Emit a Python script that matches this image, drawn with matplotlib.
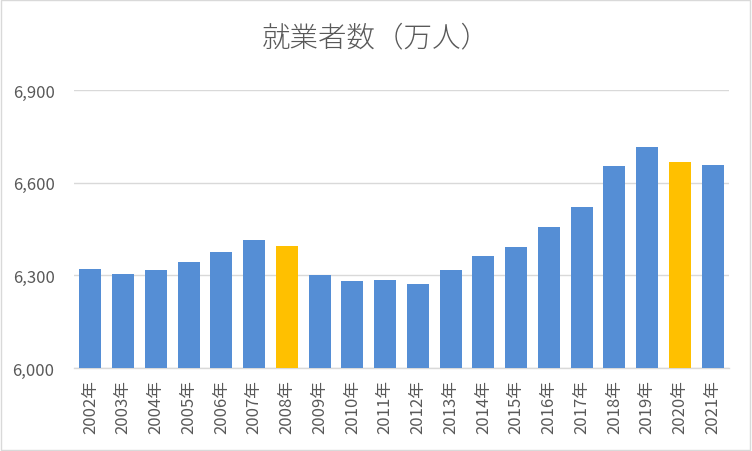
import matplotlib.pyplot as plt
from matplotlib.patches import Rectangle

plt.rcParams['font.family'] = ['Noto Sans CJK JP', 'DejaVu Sans']

years = ['2002年', '2003年', '2004年', '2005年', '2006年', '2007年', '2008年',
         '2009年', '2010年', '2011年', '2012年', '2013年', '2014年', '2015年',
         '2016年', '2017年', '2018年', '2019年', '2020年', '2021年']
workers = [6320, 6304, 6317, 6343, 6375, 6414, 6395, 6301, 6282, 6285,
           6272, 6317, 6363, 6392, 6456, 6521, 6654, 6715, 6667, 6657]
highlight = ['2008年', '2020年']

blue = '#558ED5'
gold = '#FFC000'
grey = '#595959'
colors = [gold if y in highlight else blue for y in years]

fig = plt.figure(figsize=(7.52, 4.52), dpi=100)
ax = fig.add_axes([0.0984, 0.1836, 0.871, 0.6151])

x = range(len(years))
ax.bar(x, [w - 6000 for w in workers], bottom=6000, width=0.67, color=colors, zorder=3)

ax.set_xlim(-0.5, len(years) - 0.5)
ax.set_ylim(6000, 6900)
ax.set_yticks([6000, 6300, 6600, 6900])
ax.set_yticklabels(['6,000', '6,300', '6,600', '6,900'])
ax.set_xticks(list(x))
ax.set_xticklabels(years, rotation=90)
ax.tick_params(axis='both', length=0, labelsize=12, colors=grey)
ax.tick_params(axis='y', pad=14)
ax.tick_params(axis='x', pad=8)

ax.grid(axis='y', color='#D9D9D9', linewidth=1, zorder=0)
for s in ['top', 'right', 'left']:
    ax.spines[s].set_visible(False)
ax.spines['bottom'].set_color('#D9D9D9')
ax.spines['bottom'].set_linewidth(1)

fig.text(0.5, 0.915, '就業者数（万人）', ha='center', va='center', fontsize=20.5,
         color=grey, fontweight='light')

fig.patches.append(Rectangle((0.001, 0.002), 0.997, 0.996, transform=fig.transFigure,
                             fill=False, edgecolor='#D9D9D9', linewidth=1))

fig.savefig('out.png', dpi=100)
